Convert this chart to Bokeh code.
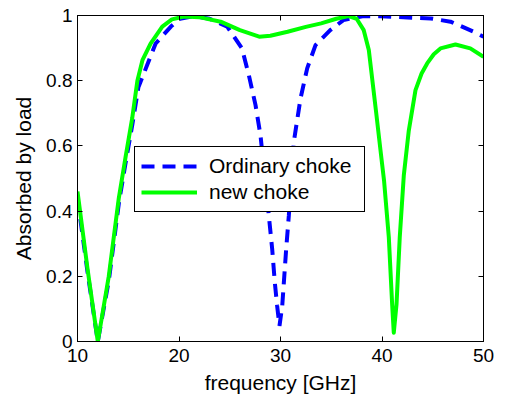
from bokeh.plotting import figure
from bokeh.models import LinearAxis, FixedTicker, Range1d, Legend, LegendItem
from bokeh.embed import file_html
from bokeh.resources import INLINE

# Data
blue_f = [10, 11, 12, 13.1, 14.1, 14.75, 15.4, 16.0, 17.7, 19.2, 20.1, 21.5, 23.0, 24.75,
          26.2, 26.88, 27.54, 28.03, 28.85, 29.18, 29.44, 29.67, 29.9, 30.17, 30.33,
          30.56, 30.82, 31.31, 31.97, 32.63, 33.45, 34.9, 36.2, 38.2, 39.85, 42.5,
          44.8, 46.75, 49.05, 50]
blue_v = [0.44, 0.21, 0.0, 0.19, 0.43, 0.55, 0.665, 0.78, 0.914, 0.966, 0.99, 0.998, 0.99, 0.966,
          0.899, 0.817, 0.725, 0.632, 0.386, 0.284, 0.181, 0.109, 0.048, 0.109, 0.181,
          0.284, 0.386, 0.612, 0.745, 0.838, 0.909, 0.955, 0.986, 0.998, 0.998, 0.994,
          0.991, 0.981, 0.950, 0.935]

green_f = [10, 11, 12, 13.08, 14.07, 14.73, 15.39, 15.9, 16.4, 17.2, 18.35, 19.3, 20.5,
           22.0, 24.1, 26.0, 27.9, 29.0, 30.7, 32.5, 34.0, 35.5, 36.7, 37.5, 38.2,
           38.7, 39.4, 39.85, 40.2, 40.67, 41.0, 41.16, 41.43, 41.75, 42.15, 42.64,
           43.3, 43.9, 44.45, 45.1, 45.76, 47.24, 48.7, 50]
green_v = [0.46, 0.22, 0.0, 0.20, 0.44, 0.565, 0.685, 0.80, 0.863, 0.914, 0.966, 0.988, 0.997,
           0.995, 0.981, 0.955, 0.935, 0.938, 0.950, 0.965, 0.976, 0.99, 0.998, 0.99, 0.955,
           0.894, 0.709, 0.587, 0.494, 0.32, 0.114, 0.027, 0.114, 0.32, 0.51, 0.647,
           0.771, 0.822, 0.853, 0.881, 0.899, 0.911, 0.899, 0.873]

x_ticks = [10, 20, 30, 40, 50]
y_ticks = [0, 0.2, 0.4, 0.6, 0.8, 1]
y_tick_labels = ["0", "0.2", "0.4", "0.6", "0.8", "1"]

labels = ["Ordinary choke", "new choke"]
FONT = "Liberation Sans"

p = figure(width=505, height=398, x_range=Range1d(10, 50), y_range=Range1d(0, 1),
           output_backend="svg", toolbar_location=None,
           x_axis_label="frequency [GHz]", y_axis_label="Absorbed by load",
           min_border_left=77, min_border_right=22, min_border_top=15, min_border_bottom=57)
p.xgrid.visible = False
p.ygrid.visible = False
p.outline_line_color = "black"
p.outline_line_width = 1
p.background_fill_color = "white"
p.border_fill_color = "white"

xax = p.below[0]
yax = p.left[0]

rb = p.line(blue_f, blue_v, line_color="#0000ff", line_width=4, line_dash="13 8")
rg = p.line(green_f, green_v, line_color="#00ff00", line_width=4, line_join="round")

xax.ticker = FixedTicker(ticks=x_ticks)
yax.ticker = FixedTicker(ticks=y_ticks)
yax.major_label_overrides = {t: s for t, s in zip(y_ticks, y_tick_labels)}

right = LinearAxis(ticker=FixedTicker(ticks=y_ticks))
top = LinearAxis(ticker=FixedTicker(ticks=x_ticks))
right.major_label_overrides = {t: "" for t in y_ticks}
top.major_label_overrides = {t: "" for t in x_ticks}
p.add_layout(right, "right")
p.add_layout(top, "above")

for ax in [xax, yax, right, top]:
    ax.axis_line_color = "black"
    ax.axis_line_width = 1
    ax.major_tick_in = 5
    ax.major_tick_out = 0
    ax.major_tick_line_color = "black"
    ax.minor_tick_line_color = None
    ax.major_label_text_font = FONT
    ax.major_label_text_font_size = "19px"
    ax.major_label_text_color = "black"
    ax.axis_label_text_font = FONT
    ax.axis_label_text_font_size = "21px"
    ax.axis_label_text_font_style = "normal"
    ax.axis_label_text_color = "black"

for ax in [right, top]:
    ax.major_label_standoff = 0

xax.major_label_standoff = 7
xax.axis_label_standoff = 6
yax.major_label_standoff = 5
yax.axis_label_standoff = 8

legend = Legend(items=[LegendItem(label=labels[0], renderers=[rb]),
                       LegendItem(label=labels[1], renderers=[rg])],
                location=(57, 129))
legend.label_text_font = FONT
legend.label_text_font_size = "21px"
legend.label_text_color = "black"
legend.border_line_color = "black"
legend.border_line_alpha = 1
legend.border_line_width = 1
legend.background_fill_color = "white"
legend.background_fill_alpha = 1
legend.padding = 6
legend.spacing = 0
legend.margin = 0
legend.glyph_width = 56
legend.glyph_height = 26
legend.label_height = 26
legend.label_width = 149
legend.label_standoff = 12
p.add_layout(legend, "center")

open("out.html", "w").write(file_html(p, INLINE))
